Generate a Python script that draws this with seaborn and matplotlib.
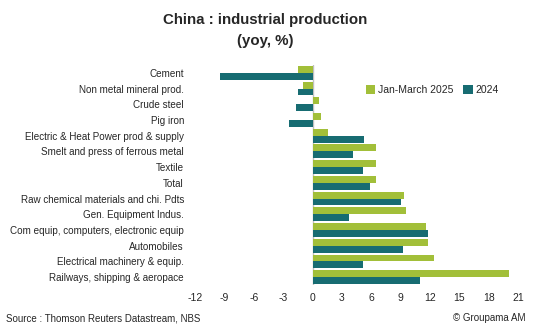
import matplotlib
matplotlib.use("Agg")
import matplotlib.pyplot as plt
import seaborn as sns
import pandas as pd

categories = [
    "Cement",
    "Non metal mineral prod.",
    "Crude steel",
    "Pig iron",
    "Electric & Heat Power prod & supply",
    "Smelt and press of ferrous metal",
    "Textile",
    "Total",
    "Raw chemical materials and chi. Pdts",
    "Gen. Equipment Indus.",
    "Com equip, computers, electronic equip",
    "Automobiles",
    "Electrical machinery & equip.",
    "Railways, shipping & aeropace",
]
jan_march_2025 = [-1.5, -1.0, 0.7, 0.9, 1.6, 6.5, 6.5, 6.5, 9.3, 9.5, 11.6, 11.8, 12.4, 20.1]
y2024 = [-9.5, -1.5, -1.7, -2.4, 5.3, 4.1, 5.2, 5.9, 9.0, 3.7, 11.8, 9.2, 5.2, 11.0]
series_names = ["Jan-March 2025", "2024"]
x_ticks = [-12, -9, -6, -3, 0, 3, 6, 9, 12, 15, 18, 21]

df = pd.DataFrame({
    "category": categories * 2,
    "value": jan_march_2025 + y2024,
    "series": [series_names[0]] * len(categories) + [series_names[1]] * len(categories),
})

sns.set_style("white")
plt.rcParams["font.family"] = ["Liberation Sans", "DejaVu Sans"]

fig = plt.figure(figsize=(5.33, 3.28), dpi=100)
ax = fig.add_axes([0.366, 0.131, 0.606, 0.671])

palette = {series_names[0]: "#A2BF39", series_names[1]: "#176C72"}
sns.barplot(data=df, y="category", x="value", hue="series", order=categories,
            hue_order=series_names, palette=palette, orient="h", width=0.88,
            ax=ax, saturation=1, errorbar=None, linewidth=0)

ax.set_xlim(-12, 21)
ax.set_xticks(x_ticks)
ax.set_xticklabels([str(t) for t in x_ticks], fontsize=7.5)
ax.set_xlabel("")
ax.set_ylabel("")
ax.tick_params(axis="y", labelsize=7.1, length=0, pad=8)
ax.tick_params(axis="x", length=0, pad=6)
for s in ax.spines.values():
    s.set_visible(False)
ax.axvline(0, color="#BFBFBF", lw=1, zorder=0)

leg = ax.legend(loc="upper left", bbox_to_anchor=(0.5, 0.95), ncol=2, frameon=False,
                fontsize=7.5, handlelength=0.9, handleheight=0.9, handletextpad=0.3,
                columnspacing=0.9)

fig.text(0.497, 0.94, "China : industrial production", ha="center", va="center",
         fontsize=10.8, fontweight="bold")
fig.text(0.497, 0.875, "(yoy, %)", ha="center", va="center",
         fontsize=10.8, fontweight="bold")
fig.text(0.012, 0.03, "Source : Thomson Reuters Datastream, NBS", ha="left",
         va="center", fontsize=7)
fig.text(0.985, 0.03, "\u00a9 Groupama AM", ha="right", va="center", fontsize=7)

fig.savefig("out.png", dpi=100)
